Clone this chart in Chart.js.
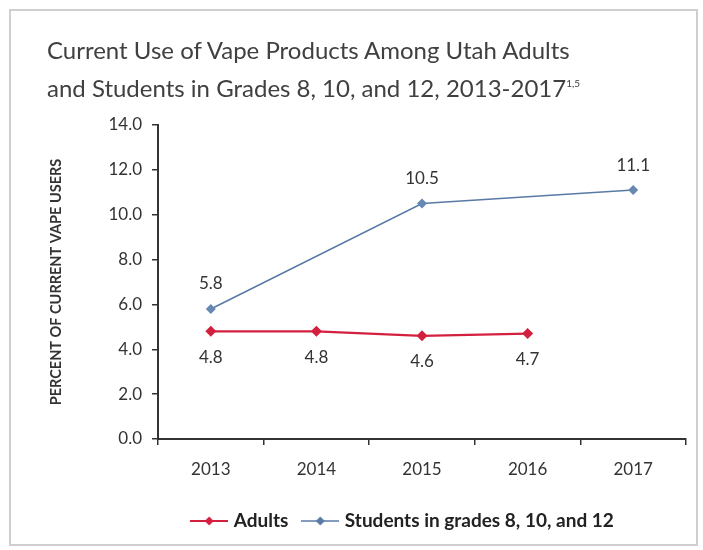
<!DOCTYPE html>
<html>
<head>
<meta charset="utf-8">
<script src="https://cdn.jsdelivr.net/npm/chart.js@4.4.1/dist/chart.umd.min.js"></script>
<style>
  body { margin: 0; background: #fff; }
  #wrap { position: relative; width: 703px; height: 550px; }
  #frame { position: absolute; left: 9px; top: 9px; width: 685px; height: 533px; border: 2px solid #cfcfcf; }
  #title { position: absolute; left: 47px; top: 31px; font: 24px Lato, sans-serif; color: #404040; line-height: 38px; white-space: nowrap; }
  #title sup { font-size: 10px; vertical-align: 10px; line-height: 0; }
  canvas { position: absolute; left: 0; top: 0; }
</style>
</head>
<body>
<div id="wrap">
  <div id="frame"></div>
  <canvas id="chart" width="703" height="550"></canvas>
  <div id="title">Current Use of Vape Products Among Utah Adults<br>and Students in Grades 8, 10, and 12, 2013-2017<sup>1,5</sup></div>
</div>
<script>
// data
const years = ['2013', '2014', '2015', '2016', '2017'];
const adults = [4.8, 4.8, 4.6, 4.7, null];
const students = [5.8, null, 10.5, null, 11.1];
const yTicks = [0, 2, 4, 6, 8, 10, 12, 14];
const seriesNames = ['Adults', 'Students in grades 8, 10, and 12'];

const redColor = '#d4203f';
const blueColor = '#5a7aa6';

Chart.defaults.font.family = 'Lato, sans-serif';

// line + diamond icon for the legend
function legendIcon(color, lw) {
    const c = document.createElement('canvas');
    c.width = 38; c.height = 12;
    const g = c.getContext('2d');
    g.strokeStyle = color;
    g.lineWidth = lw;
    g.beginPath(); g.moveTo(0, 6); g.lineTo(38, 6); g.stroke();
    g.fillStyle = color;
    g.beginPath(); g.moveTo(19, 1.5); g.lineTo(23.5, 6); g.lineTo(19, 10.5); g.lineTo(14.5, 6); g.closePath(); g.fill();
    return c;
}

// value labels above / below the points
const valueLabels = {
    id: 'valueLabels',
    afterDatasetsDraw(chart) {
        const ctx = chart.ctx;
        ctx.save();
        ctx.font = '17px Lato, sans-serif';
        ctx.fillStyle = '#333';
        ctx.textAlign = 'center';
        ctx.textBaseline = 'middle';
        chart.data.datasets.forEach((ds, i) => {
            const meta = chart.getDatasetMeta(i);
            meta.data.forEach((pt, j) => {
                const v = ds.data[j];
                if (v == null) return;
                const dy = ds.labelPos === 'above' ? -25 : 26;
                ctx.fillText(v.toFixed(1), pt.x, pt.y + dy);
            });
        });
        ctx.restore();
    }
};

// move the legend under the plot like the original
const legendPlace = {
    id: 'legendPlace',
    afterLayout(chart) {
        const lg = chart.legend;
        const dx = 404 - (lg.left + lg.right) / 2;
        lg.left += dx; lg.right += dx;
        const top = 514 - 10 - 9.5;
        lg.bottom = top + lg.height; lg.top = top;
    }
};

const ctx = document.getElementById('chart').getContext('2d');
new Chart(ctx, {
    type: 'line',
    data: {
        labels: years,
        datasets: [{
            label: seriesNames[0],
            data: adults,
            borderColor: redColor,
            backgroundColor: redColor,
            borderWidth: 2.2,
            pointStyle: 'rectRot',
            pointRadius: 5.5,
            pointBorderWidth: 0,
            labelPos: 'below',
            tension: 0
        }, {
            label: seriesNames[1],
            data: students,
            borderColor: blueColor,
            backgroundColor: '#6688b3',
            borderWidth: 1.6,
            pointStyle: 'rectRot',
            pointRadius: 5,
            pointBorderWidth: 0,
            spanGaps: true,
            labelPos: 'above',
            tension: 0
        }]
    },
    options: {
        responsive: false,
        animation: false,
        layout: { padding: { left: 40, right: 17, top: 125, bottom: 10 } },
        scales: {
            x: {
                offset: true,
                border: { color: '#333', width: 2 },
                grid: { offset: true, drawOnChartArea: false, drawTicks: true, tickLength: 6, color: '#333', lineWidth: 1.5 },
                ticks: { color: '#333', font: { size: 17 }, padding: 14 },
                afterFit: s => { s.height = 55; }
            },
            y: {
                min: 0,
                max: 14,
                border: { color: '#333', width: 2 },
                grid: { drawOnChartArea: false, drawTicks: true, tickLength: 6, color: '#333', lineWidth: 1.5 },
                ticks: { color: '#333', font: { size: 17 }, padding: 10, callback: v => v.toFixed(1) },
                afterBuildTicks: s => { s.ticks = yTicks.map(v => ({ value: v })); },
                afterFit: s => { s.width = 118; },
                title: {
                    display: true,
                    text: 'PERCENT OF CURRENT VAPE USERS',
                    color: '#333',
                    font: { size: 14.5, weight: 'bold' },
                    padding: { top: 8, bottom: 0 }
                }
            }
        },
        plugins: {
            title: { display: false },
            tooltip: { enabled: false },
            legend: {
                position: 'bottom',
                labels: {
                    color: '#222',
                    font: { size: 19, weight: 'bold' },
                    usePointStyle: true,
                    pointStyleWidth: 30,
                    padding: 17,
                    generateLabels: chart => chart.data.datasets.map((ds, i) => ({
                        text: ds.label,
                        pointStyle: legendIcon(i === 0 ? redColor : blueColor, i === 0 ? 2.2 : 1.6),
                        fontColor: '#222',
                        strokeStyle: 'transparent',
                        fillStyle: 'transparent',
                        lineWidth: 0,
                        datasetIndex: i
                    }))
                }
            }
        }
    },
    plugins: [valueLabels, legendPlace]
});
</script>
</body>
</html>
